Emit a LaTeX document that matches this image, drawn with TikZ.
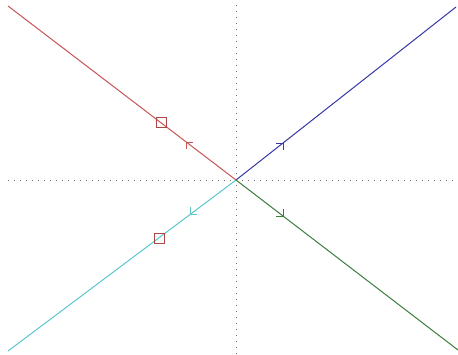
\documentclass[tikz,border=0pt]{standalone}
\definecolor{lred}{RGB}{200,85,85}
\definecolor{lblue}{RGB}{55,55,165}
\definecolor{lcyan}{RGB}{90,200,205}
\definecolor{lgreen}{RGB}{60,125,60}
\definecolor{sqred}{RGB}{175,70,70}
\definecolor{axgray}{RGB}{110,110,110}
\begin{document}
\begin{tikzpicture}[x=1pt,y=-1pt,
  axis/.style={axgray,line width=0.8pt,dash pattern=on 0.8pt off 5.2pt},
  ray/.style={line width=1pt},
  marker/.style={draw=sqred,line width=1pt,minimum size=10pt,inner sep=0pt,fill=none},
  tick/.style={line width=1pt}]
\useasboundingbox (0,0) rectangle (458,354);
\fill[white] (0,0) rectangle (458,354);
\coordinate (O) at (236,180);
\coordinate (vt) at (236,5);
\coordinate (vb) at (236,354);
\coordinate (hl) at (8,180);
\coordinate (hr) at (458,180);
\draw[axis] (vt) -- (vb);
\draw[axis] (hl) -- (hr);
\coordinate (R) at (8,6);
\coordinate (B) at (456,7);
\coordinate (C) at (8,351);
\coordinate (G) at (458,350);
\draw[ray,lred] (R) -- (O);
\draw[ray,lblue] (O) -- (B);
\draw[ray,lcyan] (O) -- (C);
\draw[ray,lgreen] (O) -- (G);
% arrow marks
\draw[tick,lred] (193,142) -- (186,142) -- (186,149);
\draw[tick,lblue] (276,143) -- (283,143) -- (283,150);
\draw[tick,lcyan] (197,214) -- (190,214) -- (190,207);
\draw[tick,lgreen] (276,216) -- (283,216) -- (283,209);
% squares
\node[marker] (s1) at (161,122) {};
\node[marker] (s2) at (159,238) {};
\end{tikzpicture}
\end{document}
